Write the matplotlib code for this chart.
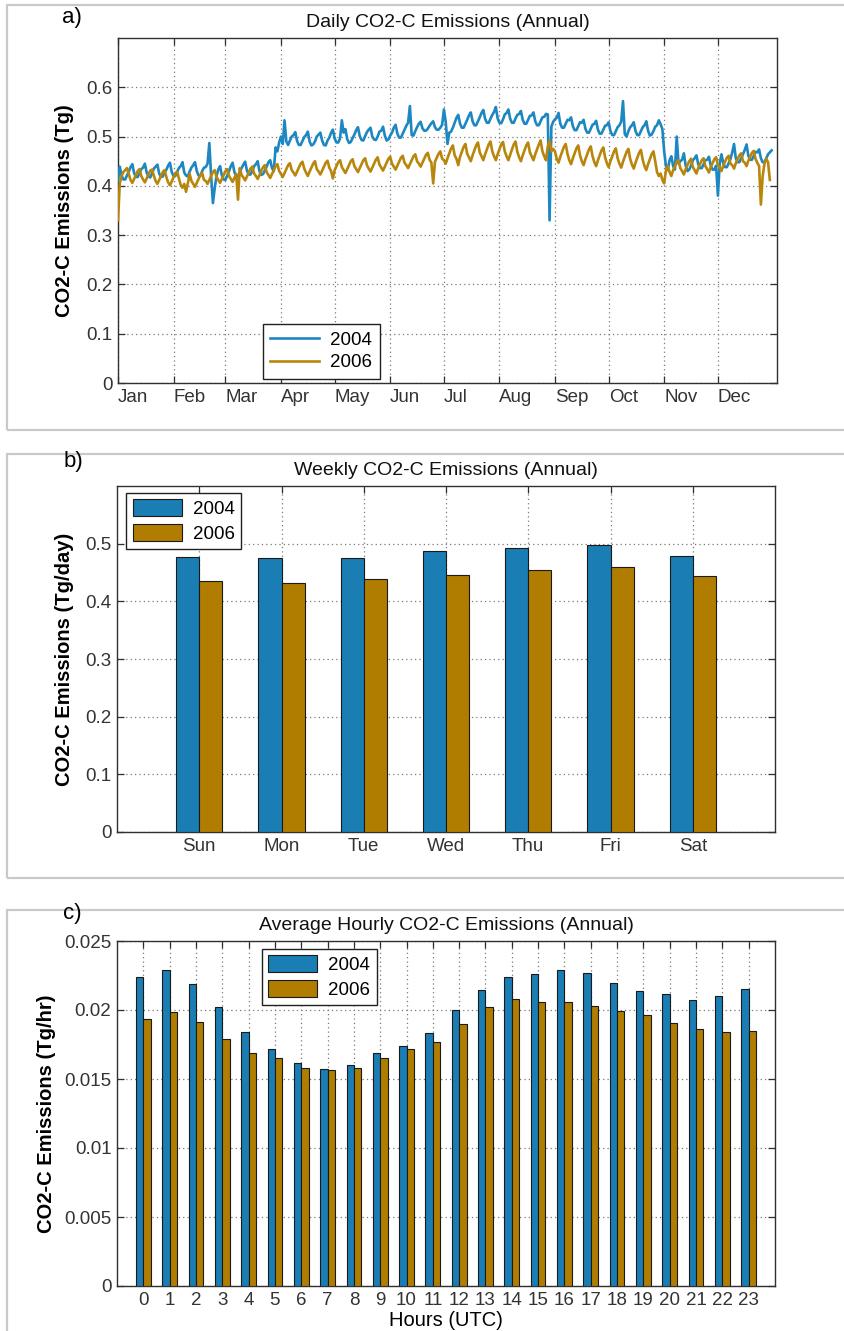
import matplotlib
matplotlib.use("Agg")
import matplotlib.pyplot as plt
from matplotlib.patches import Rectangle
import numpy as np

# ---------------- data ----------------
month_labels = ["Jan", "Feb", "Mar", "Apr", "May", "Jun",
                "Jul", "Aug", "Sep", "Oct", "Nov", "Dec"]
month_start_days = [0, 31, 60, 91, 121, 152, 182, 213, 244, 274, 305, 335]

daily_2004 = [
    0.410, 0.439, 0.421, 0.413, 0.413, 0.421, 0.429,
    0.438, 0.444, 0.426, 0.418, 0.418, 0.426, 0.434,
    0.437, 0.445, 0.427, 0.419, 0.417, 0.425, 0.435,
    0.439, 0.443, 0.425, 0.418, 0.419, 0.427, 0.433,
    0.441, 0.447, 0.428, 0.420, 0.420, 0.428, 0.436,
    0.440, 0.448, 0.427, 0.421, 0.419, 0.429, 0.437,
    0.442, 0.448, 0.430, 0.421, 0.420, 0.430, 0.437,
    0.438, 0.445, 0.487, 0.420, 0.365, 0.395, 0.420,
    0.433, 0.440, 0.421, 0.413, 0.412, 0.421, 0.430,
    0.440, 0.447, 0.428, 0.420, 0.419, 0.428, 0.436,
    0.443, 0.449, 0.431, 0.423, 0.423, 0.430, 0.440,
    0.444, 0.450, 0.430, 0.422, 0.424, 0.431, 0.439,
    0.448, 0.452, 0.436, 0.430, 0.478, 0.470, 0.488,
    0.500, 0.485, 0.533, 0.490, 0.483, 0.492, 0.500,
    0.503, 0.509, 0.491, 0.483, 0.483, 0.491, 0.499,
    0.503, 0.510, 0.490, 0.482, 0.484, 0.490, 0.500,
    0.504, 0.508, 0.492, 0.483, 0.482, 0.492, 0.498,
    0.508, 0.514, 0.496, 0.488, 0.488, 0.496, 0.533,
    0.508, 0.515, 0.495, 0.487, 0.489, 0.497, 0.504,
    0.513, 0.519, 0.501, 0.493, 0.492, 0.501, 0.509,
    0.514, 0.518, 0.500, 0.494, 0.493, 0.500, 0.510,
    0.512, 0.520, 0.502, 0.492, 0.494, 0.502, 0.508,
    0.518, 0.524, 0.506, 0.498, 0.498, 0.506, 0.514,
    0.522, 0.528, 0.562, 0.503, 0.502, 0.511, 0.519,
    0.526, 0.530, 0.517, 0.512, 0.512, 0.516, 0.522,
    0.527, 0.531, 0.519, 0.514, 0.514, 0.518, 0.524,
    0.555, 0.530, 0.485, 0.508, 0.510, 0.518, 0.528,
    0.538, 0.544, 0.526, 0.518, 0.518, 0.526, 0.534,
    0.543, 0.549, 0.531, 0.523, 0.523, 0.531, 0.539,
    0.548, 0.554, 0.536, 0.528, 0.528, 0.536, 0.544,
    0.550, 0.560, 0.537, 0.528, 0.527, 0.535, 0.545,
    0.548, 0.555, 0.536, 0.528, 0.528, 0.537, 0.544,
    0.546, 0.552, 0.534, 0.526, 0.526, 0.534, 0.542,
    0.543, 0.549, 0.531, 0.523, 0.523, 0.531, 0.539,
    0.540, 0.546, 0.545, 0.330, 0.520, 0.530, 0.535,
    0.538, 0.548, 0.526, 0.518, 0.518, 0.526, 0.534,
    0.533, 0.539, 0.521, 0.513, 0.513, 0.521, 0.529,
    0.528, 0.534, 0.516, 0.508, 0.508, 0.516, 0.524,
    0.526, 0.532, 0.514, 0.506, 0.506, 0.514, 0.522,
    0.523, 0.529, 0.511, 0.503, 0.503, 0.511, 0.519,
    0.523, 0.530, 0.572, 0.505, 0.500, 0.511, 0.519,
    0.523, 0.529, 0.511, 0.503, 0.503, 0.511, 0.519,
    0.523, 0.531, 0.512, 0.502, 0.504, 0.511, 0.520,
    0.523, 0.533, 0.525, 0.515, 0.470, 0.440, 0.432,
    0.452, 0.460, 0.440, 0.433, 0.500, 0.445, 0.450,
    0.453, 0.466, 0.441, 0.430, 0.433, 0.441, 0.452,
    0.456, 0.462, 0.444, 0.436, 0.436, 0.444, 0.452,
    0.453, 0.459, 0.441, 0.433, 0.433, 0.441, 0.380,
    0.445, 0.464, 0.446, 0.438, 0.438, 0.446, 0.454,
    0.468, 0.485, 0.456, 0.448, 0.448, 0.456, 0.464,
    0.473, 0.484, 0.461, 0.453, 0.453, 0.461, 0.469,
    0.468, 0.474, 0.456, 0.448, 0.448, 0.456, 0.464,
    0.468, 0.472,
]

daily_2006 = [
    0.330, 0.405, 0.420, 0.428, 0.432, 0.436, 0.424,
    0.412, 0.406, 0.414, 0.422, 0.430, 0.434, 0.420,
    0.413, 0.407, 0.415, 0.423, 0.431, 0.433, 0.421,
    0.410, 0.404, 0.412, 0.420, 0.428, 0.432, 0.418,
    0.407, 0.401, 0.409, 0.417, 0.425, 0.429, 0.415,
    0.402, 0.396, 0.404, 0.388, 0.405, 0.424, 0.410,
    0.404, 0.398, 0.406, 0.414, 0.422, 0.426, 0.412,
    0.410, 0.404, 0.412, 0.420, 0.428, 0.432, 0.418,
    0.412, 0.406, 0.414, 0.422, 0.430, 0.434, 0.420,
    0.414, 0.408, 0.416, 0.424, 0.372, 0.436, 0.422,
    0.417, 0.411, 0.419, 0.427, 0.435, 0.439, 0.425,
    0.420, 0.414, 0.422, 0.430, 0.438, 0.442, 0.428,
    0.422, 0.416, 0.424, 0.432, 0.440, 0.444, 0.430,
    0.424, 0.418, 0.426, 0.434, 0.442, 0.446, 0.432,
    0.427, 0.421, 0.429, 0.437, 0.445, 0.449, 0.435,
    0.427, 0.420, 0.429, 0.437, 0.445, 0.450, 0.434,
    0.429, 0.423, 0.431, 0.439, 0.447, 0.451, 0.437,
    0.430, 0.415, 0.432, 0.440, 0.448, 0.452, 0.438,
    0.432, 0.426, 0.434, 0.442, 0.450, 0.454, 0.440,
    0.434, 0.428, 0.436, 0.444, 0.452, 0.456, 0.442,
    0.435, 0.429, 0.437, 0.445, 0.453, 0.458, 0.443,
    0.437, 0.431, 0.439, 0.447, 0.455, 0.459, 0.445,
    0.439, 0.433, 0.441, 0.449, 0.457, 0.461, 0.447,
    0.442, 0.436, 0.444, 0.452, 0.460, 0.464, 0.450,
    0.445, 0.439, 0.447, 0.455, 0.463, 0.467, 0.453,
    0.447, 0.405, 0.449, 0.457, 0.465, 0.470, 0.455,
    0.452, 0.445, 0.456, 0.466, 0.476, 0.482, 0.462,
    0.455, 0.442, 0.459, 0.469, 0.479, 0.485, 0.465,
    0.458, 0.450, 0.462, 0.472, 0.482, 0.488, 0.468,
    0.460, 0.452, 0.464, 0.474, 0.484, 0.490, 0.470,
    0.460, 0.452, 0.464, 0.474, 0.484, 0.489, 0.470,
    0.460, 0.452, 0.463, 0.474, 0.484, 0.490, 0.469,
    0.458, 0.450, 0.462, 0.472, 0.482, 0.488, 0.468,
    0.460, 0.452, 0.464, 0.474, 0.484, 0.492, 0.470,
    0.460, 0.452, 0.480, 0.492, 0.470, 0.475, 0.470,
    0.455, 0.447, 0.459, 0.469, 0.479, 0.485, 0.465,
    0.452, 0.444, 0.456, 0.466, 0.476, 0.482, 0.462,
    0.450, 0.442, 0.454, 0.464, 0.474, 0.480, 0.460,
    0.448, 0.440, 0.452, 0.462, 0.472, 0.478, 0.458,
    0.446, 0.438, 0.450, 0.460, 0.470, 0.476, 0.456,
    0.445, 0.437, 0.449, 0.459, 0.469, 0.475, 0.455,
    0.443, 0.435, 0.447, 0.457, 0.467, 0.473, 0.453,
    0.440, 0.432, 0.444, 0.454, 0.464, 0.470, 0.450,
    0.428, 0.420, 0.425, 0.412, 0.405, 0.432, 0.440,
    0.428, 0.420, 0.432, 0.440, 0.448, 0.452, 0.436,
    0.430, 0.423, 0.434, 0.442, 0.450, 0.455, 0.438,
    0.432, 0.425, 0.436, 0.444, 0.452, 0.456, 0.440,
    0.434, 0.427, 0.438, 0.446, 0.454, 0.458, 0.442,
    0.437, 0.430, 0.441, 0.449, 0.457, 0.461, 0.445,
    0.442, 0.435, 0.446, 0.454, 0.462, 0.466, 0.450,
    0.447, 0.440, 0.451, 0.459, 0.467, 0.471, 0.455,
    0.447, 0.440, 0.362, 0.420, 0.445, 0.455, 0.448,
    0.412,
]

weekdays = ["Sun", "Mon", "Tue", "Wed", "Thu", "Fri", "Sat"]
weekly_2004 = [0.477, 0.475, 0.475, 0.488, 0.492, 0.498, 0.479]
weekly_2006 = [0.435, 0.431, 0.439, 0.446, 0.455, 0.459, 0.444]

hours = list(range(24))
hourly_2004 = [0.02237, 0.02292, 0.02191, 0.02024, 0.01838, 0.01715,
               0.01616, 0.01570, 0.01599, 0.01686, 0.01737, 0.01833,
               0.01998, 0.02147, 0.02237, 0.02261, 0.02292, 0.02270,
               0.02196, 0.02138, 0.02116, 0.02070, 0.02099, 0.02155]
hourly_2006 = [0.01937, 0.01983, 0.01913, 0.01790, 0.01691, 0.01652,
               0.01582, 0.01563, 0.01582, 0.01652, 0.01715, 0.01768,
               0.01901, 0.02024, 0.02077, 0.02060, 0.02060, 0.02031,
               0.01990, 0.01961, 0.01906, 0.01862, 0.01838, 0.01848]

series_labels = ["2004", "2006"]

# ---------------- style ----------------
BLUE_LINE = "#1d87c1"
BROWN_LINE = "#b8860b"
BLUE_BAR = "#1a7db3"
BROWN_BAR = "#b07d00"
TICK_COLOR = "#333333"
GRID_COLOR = "#7a7a7a"
FRAME_COLOR = "#c9c9c9"

narrow = ["Liberation Sans Narrow", "Liberation Sans", "DejaVu Sans"]
regular = ["Liberation Sans", "DejaVu Sans"]
plt.rcParams["font.family"] = narrow

W, H = 844, 1331
fig = plt.figure(figsize=(W / 100, H / 100), dpi=100)
fig.patch.set_facecolor("white")


def fx(px):
    return px / W


def fy(py):
    return 1 - py / H


# panel frames
for top, bottom in [(5, 430), (454, 878), (910, 1345)]:
    fig.add_artist(Rectangle((fx(7), fy(bottom)), 1.2, fy(top) - fy(bottom),
                             transform=fig.transFigure, fill=False,
                             edgecolor=FRAME_COLOR, linewidth=1.6, zorder=0))

# panel letters
for lab, x, y in [("a)", 72, 18), ("b)", 73, 461), ("c)", 72, 913)]:
    fig.text(fx(x), fy(y), lab, fontsize=16, family=regular,
             ha="center", va="center", color="black")


def make_axes(left, top, right, bottom):
    return fig.add_axes([fx(left), fy(bottom), fx(right) - fx(left),
                         (bottom - top) / H])


def style_axes(ax):
    for s in ax.spines.values():
        s.set_color("#303030")
        s.set_linewidth(1.0)
    ax.tick_params(direction="in", top=True, right=True, length=5,
                   width=0.9, colors="#303030", labelcolor=TICK_COLOR,
                   labelsize=13.5, pad=4)
    ax.grid(True, linestyle=(0, (1, 2.5)), color=GRID_COLOR, linewidth=0.9)
    ax.set_axisbelow(True)


TITLE_KW = dict(fontsize=14, family=regular, pad=8, color="#111111")
YLAB_KW = dict(fontsize=14.5, family=regular, color="black", weight="bold")

# ---------------- a) daily ----------------
axa = make_axes(118, 38, 777, 383)
style_axes(axa)
axa.plot(np.arange(len(daily_2004)), daily_2004, color=BLUE_LINE,
         lw=1.9, label=series_labels[0], zorder=3)
axa.plot(np.arange(len(daily_2006)), daily_2006, color=BROWN_LINE,
         lw=1.9, label=series_labels[1], zorder=3)
axa.set_xlim(0, 368)
axa.set_ylim(0, 0.7)
axa.set_yticks([0, 0.1, 0.2, 0.3, 0.4, 0.5, 0.6])
axa.set_yticklabels(["0", "0.1", "0.2", "0.3", "0.4", "0.5", "0.6"])
axa.set_xticks(month_start_days)
axa.set_xticklabels(month_labels, ha="left")
axa.set_title("Daily CO2-C Emissions (Annual)", **TITLE_KW)
axa.set_ylabel("CO2-C Emissions (Tg)", **YLAB_KW)
axa.yaxis.set_label_coords(-0.067, 0.5)
lega = axa.legend(loc="lower left", bbox_to_anchor=(0.22, 0.012),
                  borderaxespad=0, fancybox=False, framealpha=1,
                  edgecolor="#202020", fontsize=13.5, handlelength=2.6,
                  handletextpad=0.6, labelspacing=0.3, borderpad=0.4)
lega.get_frame().set_linewidth(1.0)

# ---------------- b) weekly ----------------
axb = make_axes(117, 486, 775, 832)
style_axes(axb)
xb = np.arange(1, len(weekdays) + 1)
bw = 0.28
axb.bar(xb - bw / 2, weekly_2004, width=bw, color=BLUE_BAR,
        edgecolor="#1a1a1a", linewidth=0.8, label=series_labels[0], zorder=3)
axb.bar(xb + bw / 2, weekly_2006, width=bw, color=BROWN_BAR,
        edgecolor="#1a1a1a", linewidth=0.8, label=series_labels[1], zorder=3)
axb.set_xlim(0, 8)
axb.set_ylim(0, 0.6)
axb.set_xticks(xb)
axb.set_xticklabels(weekdays)
axb.set_yticks([0, 0.1, 0.2, 0.3, 0.4, 0.5])
axb.set_yticklabels(["0", "0.1", "0.2", "0.3", "0.4", "0.5"])
axb.set_title("Weekly CO2-C Emissions (Annual)", **TITLE_KW)
axb.set_ylabel("CO2-C Emissions (Tg/day)", **YLAB_KW)
axb.yaxis.set_label_coords(-0.065, 0.5)
legb = axb.legend(loc="upper left", bbox_to_anchor=(0.014, 0.98),
                  borderaxespad=0, fancybox=False, framealpha=1,
                  edgecolor="#202020", fontsize=13.5, handlelength=2.6,
                  handleheight=1.0, handletextpad=0.6, labelspacing=0.3,
                  borderpad=0.35)
legb.get_frame().set_linewidth(1.0)

# ---------------- c) hourly ----------------
axc = make_axes(117, 941, 775, 1286)
style_axes(axc)
xc = np.array(hours)
axc.bar(xc - bw / 2, hourly_2004, width=bw, color=BLUE_BAR,
        edgecolor="#1a1a1a", linewidth=0.8, label=series_labels[0], zorder=3)
axc.bar(xc + bw / 2, hourly_2006, width=bw, color=BROWN_BAR,
        edgecolor="#1a1a1a", linewidth=0.8, label=series_labels[1], zorder=3)
axc.set_xlim(-1, 24)
axc.set_ylim(0, 0.025)
axc.set_xticks(xc)
axc.set_xticklabels([str(h) for h in hours])
axc.set_yticks([0, 0.005, 0.01, 0.015, 0.02, 0.025])
axc.set_yticklabels(["0", "0.005", "0.01", "0.015", "0.02", "0.025"])
axc.set_title("Average Hourly CO2-C Emissions (Annual)", **TITLE_KW)
axc.set_ylabel("CO2-C Emissions (Tg/hr)", **YLAB_KW)
axc.yaxis.set_label_coords(-0.092, 0.5)
axc.set_xlabel("Hours (UTC)", fontsize=14.5, family=regular, labelpad=2)
legc = axc.legend(loc="upper left", bbox_to_anchor=(0.22, 0.977),
                  borderaxespad=0, fancybox=False, framealpha=1,
                  edgecolor="#202020", fontsize=13.5, handlelength=2.6,
                  handleheight=1.0, handletextpad=0.6, labelspacing=0.3,
                  borderpad=0.35)
legc.get_frame().set_linewidth(1.0)

fig.savefig("out.png", dpi=100, facecolor="white")
